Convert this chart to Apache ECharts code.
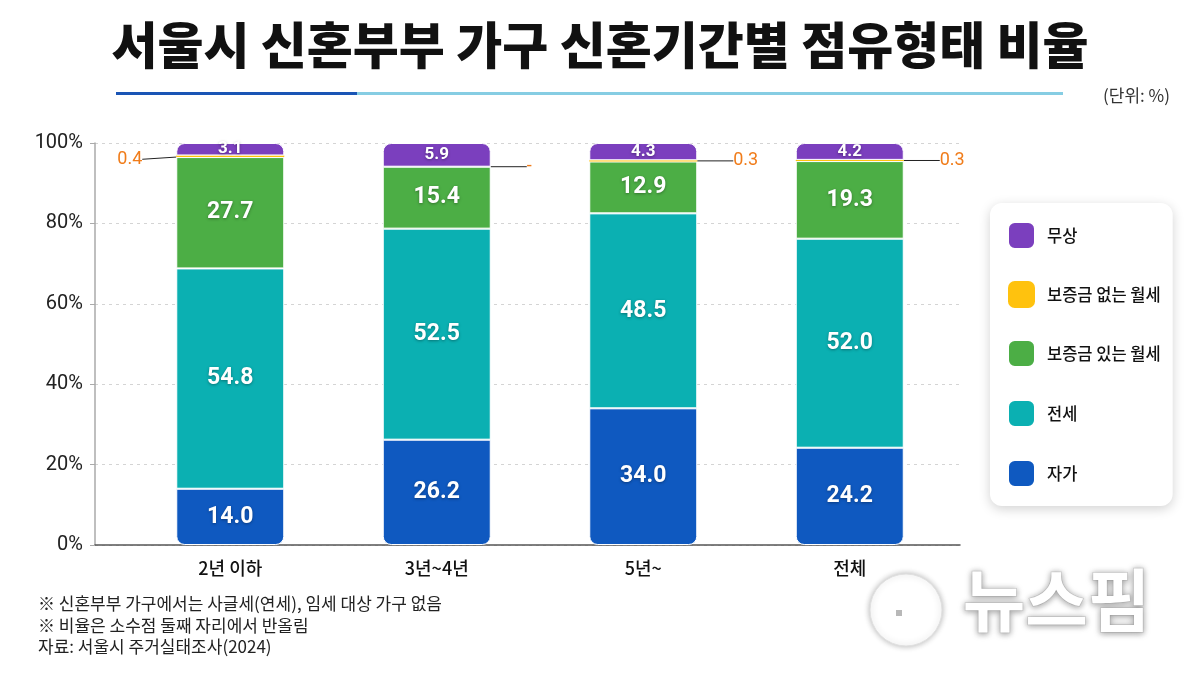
<!DOCTYPE html>
<html>
<head>
<meta charset="utf-8">
<script src="https://cdn.jsdelivr.net/npm/echarts@6/dist/echarts.min.js"></script>
<style>
  html, body { margin: 0; padding: 0; background: #fff; }
  #chart { width: 1200px; height: 675px; }
</style>
</head>
<body>
<div id="chart"></div>
<script>
// 데이터
const categories = ['2년 이하', '3년~4년', '5년~', '전체'];
const owned = [14.0, 26.2, 34.0, 24.2];          // 자가
const jeonse = [54.8, 52.5, 48.5, 52.0];         // 전세
const monthlyDeposit = [27.7, 15.4, 12.9, 19.3]; // 보증금 있는 월세
const monthlyNoDeposit = [0.4, 0, 0.3, 0.3];     // 보증금 없는 월세
const free = [3.1, 5.9, 4.3, 4.2];               // 무상
const yTicks = [0, 20, 40, 60, 80, 100];

const FONT = '"Noto Sans CJK KR", "Noto Sans", sans-serif';
const NUM_FONT = '"Liberation Sans Narrow", Roboto, "Noto Sans", sans-serif';

const colors = {
  free: '#7b3fbe',
  noDeposit: '#ffc20e',
  deposit: '#4cae45',
  jeonse: '#0bb0b2',
  owned: '#0f59c0'
};

const innerLabel = (size) => ({
  show: true,
  position: 'inside',
  color: '#fff',
  fontSize: size,
  fontWeight: 'bold',
  fontFamily: NUM_FONT,
  textShadowColor: 'rgba(0,0,0,0.35)',
  textShadowBlur: 3,
  textShadowOffsetY: 1,
  formatter: p => p.value.toFixed(1)
});

const barBase = {
  type: 'bar',
  stack: 'total',
  xAxisIndex: 1,
  yAxisIndex: 1,
  barWidth: 108
};

const chart = echarts.init(document.getElementById('chart'));
chart.setOption({
  animation: false,
  title: {
    text: '서울시 신혼부부 가구 신혼기간별 점유형태 비율',
    left: 'center',
    top: 15,
    textStyle: { fontSize: 50, fontWeight: 900, fontFamily: FONT, color: '#111' }
  },
  legend: {
    orient: 'vertical',
    left: 990,
    top: 203,
    data: ['무상', '보증금 없는 월세', '보증금 있는 월세', '전세', '자가'],
    icon: 'roundRect',
    itemWidth: 27,
    itemHeight: 27,
    itemGap: 31,
    padding: [18, 12, 18, 17],
    backgroundColor: '#fff',
    borderRadius: 12,
    shadowBlur: 12,
    shadowColor: 'rgba(0,0,0,0.18)',
    shadowOffsetY: 3,
    textStyle: { fontSize: 16.5, color: '#111', fontFamily: FONT, fontWeight: 500, padding: [0, 0, 0, 7] }
  },
  grid: [
    { left: 95, right: 240, top: 143, bottom: 130 },
    { left: 127, right: 247, top: 143, bottom: 130 }
  ],
  xAxis: [
    {
      type: 'value', gridIndex: 0, min: 0, max: 1,
      axisLine: { show: true, lineStyle: { color: '#555', width: 1.5 } },
      axisTick: { show: false }, axisLabel: { show: false }, splitLine: { show: false }
    },
    {
      type: 'category', gridIndex: 1, data: categories,
      axisLine: { show: false }, axisTick: { show: false },
      axisLabel: { fontSize: 18, color: '#111', fontFamily: FONT, fontWeight: 500, margin: 14 }
    }
  ],
  yAxis: [
    {
      type: 'value', gridIndex: 0, min: yTicks[0], max: yTicks[yTicks.length - 1], interval: 20,
      axisLine: { show: true, lineStyle: { color: '#aaa', width: 1.5 } },
      axisTick: { show: true, length: 5, lineStyle: { color: '#aaa' } },
      axisLabel: { formatter: '{value}%', fontSize: 20, color: '#222', fontFamily: 'Roboto, "Noto Sans", sans-serif', margin: 12 },
      splitLine: { show: true, lineStyle: { color: '#d4d4d4', type: [3, 4] } }
    },
    { type: 'value', gridIndex: 1, min: 0, max: 100, show: false, splitLine: { show: false } }
  ],
  series: [
    Object.assign({}, barBase, {
      name: '자가', data: owned,
      itemStyle: { color: colors.owned, borderRadius: [0, 0, 8, 8], borderColor: '#fff', borderWidth: 1 },
      label: innerLabel(23)
    }),
    Object.assign({}, barBase, {
      name: '전세', data: jeonse,
      itemStyle: { color: colors.jeonse, borderColor: '#fff', borderWidth: 1 },
      label: innerLabel(23)
    }),
    Object.assign({}, barBase, {
      name: '보증금 있는 월세', data: monthlyDeposit,
      itemStyle: { color: colors.deposit, borderColor: '#fff', borderWidth: 1 },
      label: innerLabel(23)
    }),
    Object.assign({}, barBase, {
      name: '보증금 없는 월세',
      data: monthlyNoDeposit.map((v, i) => ({
        value: v,
        label: { position: i === 0 ? 'left' : 'right' }
      })),
      itemStyle: { color: colors.noDeposit },
      label: {
        show: true, color: '#f07c1a', fontSize: 18, fontFamily: 'Roboto, "Noto Sans", sans-serif',
        distance: 4,
        padding: [0, 6, 0, 6],
        formatter: p => p.value === 0 ? '-' : p.value.toFixed(1)
      },
      labelLayout: p => (p.dataIndex === 0 ? { dx: -24, dy: 3 } : { dx: 26 }),
      labelLine: { show: true, lineStyle: { color: '#222', width: 1 } }
    }),
    Object.assign({}, barBase, {
      name: '무상', data: free,
      itemStyle: { color: colors.free, borderRadius: [8, 8, 0, 0], borderColor: '#fff', borderWidth: 1 },
      label: innerLabel(17)
    })
  ],
  color: [colors.owned, colors.jeonse, colors.deposit, colors.noDeposit, colors.free],
  graphic: [
    // 제목 밑줄
    { type: 'rect', left: 116, top: 92, shape: { width: 241, height: 3 }, style: { fill: '#1a55b5' } },
    { type: 'rect', left: 357, top: 92, shape: { width: 706, height: 3 }, style: { fill: '#86cde3' } },
    {
      type: 'text', right: 30, top: 87,
      style: { text: '(단위: %)', fontSize: 17, fill: '#333', fontFamily: FONT }
    },
    // 범례 구분선
    ...[265, 324, 383, 441].map(y => ({
      type: 'line', shape: { x1: 1007, y1: y, x2: 1158, y2: y },
      style: { stroke: '#d8d8d8', lineWidth: 1, lineDash: [2, 3] }
    })),
    {
      type: 'text', left: 38, top: 593,
      style: {
        text: '※ 신혼부부 가구에서는 사글세(연세), 임세 대상 가구 없음\n※ 비율은 소수점 둘째 자리에서 반올림\n자료: 서울시 주거실태조사(2024)',
        fontSize: 17, lineHeight: 21.5, fill: '#222', fontFamily: FONT
      }
    },
    // 워터마크 로고
    {
      type: 'circle', shape: { cx: 906, cy: 610, r: 36 },
      style: { fill: '#fff', stroke: '#e0e0e0', lineWidth: 1, shadowBlur: 6, shadowColor: 'rgba(0,0,0,0.3)' }
    },
    {
      type: 'rect', shape: { x: 896, y: 610, width: 6, height: 6 },
      style: { fill: '#b8b8b8' }
    },
    {
      type: 'text', left: 962, top: 565,
      style: {
        text: '뉴스핌', fontSize: 68, fontWeight: 'bold', fontFamily: FONT, fill: '#fff',
        stroke: '#d6d6d6', lineWidth: 1.5,
        textShadowBlur: 6, textShadowColor: 'rgba(0,0,0,0.35)', textShadowOffsetY: 1
      }
    }
  ]
});
</script>
</body>
</html>
